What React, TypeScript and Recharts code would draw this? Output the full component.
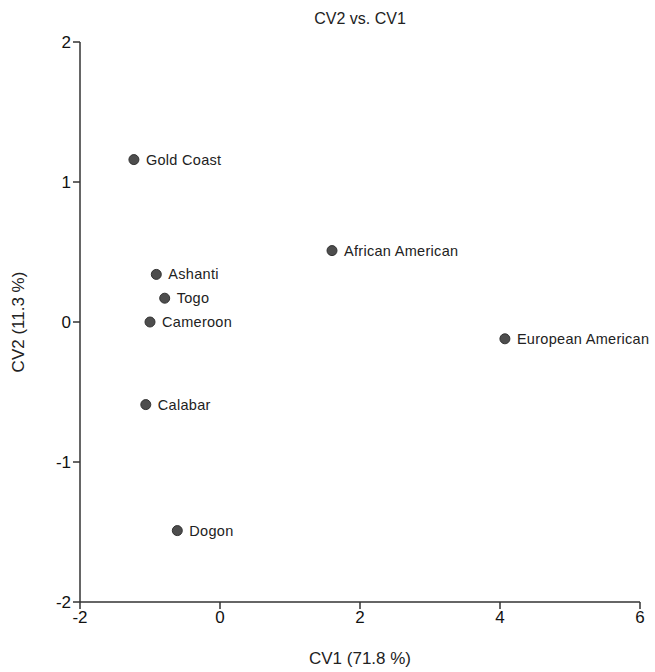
import { ScatterChart, Scatter, XAxis, YAxis } from "recharts";

const groups = ["Gold Coast", "African American", "European American", "Ashanti", "Togo", "Cameroon", "Calabar", "Dogon"];
const cv1 = [-1.23, 1.6, 4.07, -0.91, -0.79, -1.0, -1.06, -0.61];
const cv2 = [1.16, 0.51, -0.12, 0.34, 0.17, 0.0, -0.59, -1.49];
const xTicks = [-2, 0, 2, 4, 6];
const yTicks = [-2, -1, 0, 1, 2];

const points = groups.map((name, i) => ({ name, x: cv1[i], y: cv2[i] }));

const font = "'Liberation Sans', Arial, sans-serif";

// eslint-disable-next-line @typescript-eslint/no-explicit-any
function LabeledDot(props: any) {
  const { cx, cy, payload } = props;
  return (
    <g>
      <circle cx={cx} cy={cy} r={5} fill="#4d4d4d" stroke="#333" strokeWidth={1} />
      <text
        x={cx + 12}
        y={cy}
        dominantBaseline="central"
        fontSize={14.5}
        letterSpacing={0.3}
        fill="#222"
        fontFamily={font}
      >
        {payload.name}
      </text>
    </g>
  );
}

export default function App() {
  return (
    <div style={{ position: "relative", width: 655, height: 672, background: "#fff", fontFamily: font }}>
      <style>{"body{margin:0}"}</style>
      <div style={{ position: "absolute", left: 80, width: 560, top: 10, textAlign: "center", fontSize: 16, color: "#222" }}>
        CV2 vs. CV1
      </div>
      <ScatterChart width={655} height={672} margin={{ top: 42, right: 15, bottom: 0, left: 0 }}>
        <XAxis
          type="number"
          dataKey="x"
          domain={[-2, 6]}
          ticks={xTicks}
          height={70}
          tickSize={7}
          stroke="#333"
          strokeWidth={1.5}
          tick={{ fill: "#111", fontSize: 17, fontFamily: font }}
          label={{ value: "CV1 (71.8 %)", position: "insideBottom", offset: 8, fill: "#222", fontSize: 17, fontFamily: font }}
        />
        <YAxis
          type="number"
          dataKey="y"
          domain={[-2, 2]}
          ticks={yTicks}
          width={80}
          tickSize={7}
          stroke="#333"
          strokeWidth={1.5}
          tick={{ fill: "#111", fontSize: 17, fontFamily: font }}
          label={{ value: "CV2 (11.3 %)", angle: -90, position: "insideLeft", offset: 18, fill: "#222", fontSize: 17, fontFamily: font, style: { textAnchor: "middle" } }}
        />
        <Scatter data={points} shape={LabeledDot} isAnimationActive={false} />
      </ScatterChart>
    </div>
  );
}
